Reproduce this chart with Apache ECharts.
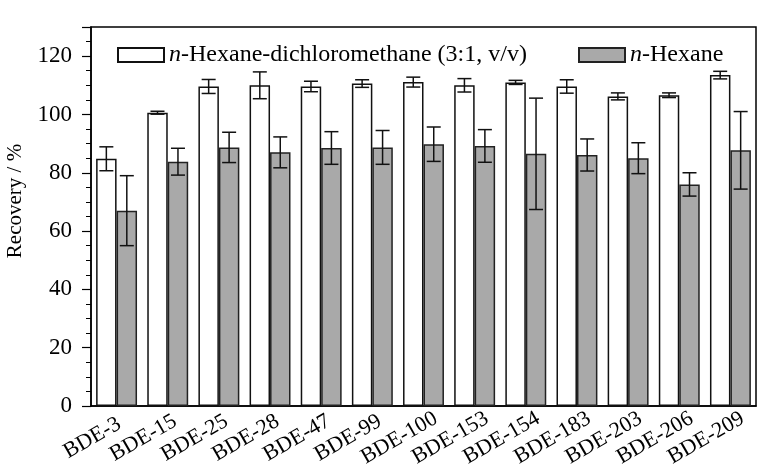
<!DOCTYPE html>
<html><head><meta charset="utf-8">
<script src="https://cdn.jsdelivr.net/npm/echarts@6/dist/echarts.min.js"></script>
<style>html,body{margin:0;padding:0;background:#fff}#c{width:765px;height:472px}</style>
</head><body><div id="c"></div>
<script>
var categories = ['BDE-3','BDE-15','BDE-25','BDE-28','BDE-47','BDE-99','BDE-100','BDE-153','BDE-154','BDE-183','BDE-203','BDE-206','BDE-209'];
var mixValues = [84.8, 100.6, 109.6, 110.0, 109.6, 110.6, 111.1, 110.0, 111.0, 109.6, 106.2, 106.6, 113.5];
var mixErrors = [4.1, 0.5, 2.4, 4.6, 1.8, 1.3, 1.7, 2.3, 0.7, 2.3, 1.2, 0.8, 1.3];
var hexValues = [67.0, 83.8, 88.7, 87.0, 88.5, 88.7, 89.8, 89.2, 86.5, 86.1, 85.0, 76.0, 87.7];
var hexErrors = [12.0, 4.6, 5.2, 5.3, 5.6, 5.8, 5.9, 5.6, 19.1, 5.5, 5.3, 4.0, 13.3];
var yTicks = [0, 20, 40, 60, 80, 100, 120];
var yTitle = 'Recovery / %';

var FONT = '"Liberation Serif", "Times New Roman", serif';
var chart = echarts.init(document.getElementById('c'), null, {renderer: 'canvas'});

function errData(vals, errs) {
  return vals.map(function (v, i) { return [i, v, errs[i]]; });
}
function makeErr(sign) {
  return function (params, api) {
    var i = api.value(0), v = api.value(1), e = api.value(2);
    var band = api.size([1, 0])[0];
    var p = api.coord([i, v]);
    var x = p[0] + sign * band * 0.2;
    var top = api.coord([i, v + e])[1];
    var bot = api.coord([i, v - e])[1];
    var half = 7;
    var st = {stroke: '#111', lineWidth: 1.5};
    return {type: 'group', children: [
      {type: 'line', shape: {x1: x, y1: top, x2: x, y2: bot}, style: st},
      {type: 'line', shape: {x1: x - half, y1: top, x2: x + half, y2: top}, style: st},
      {type: 'line', shape: {x1: x - half, y1: bot, x2: x + half, y2: bot}, style: st}
    ]};
  };
}

var legendText = {fontFamily: FONT, fontSize: 24, color: '#000',
  rich: {i: {fontFamily: FONT, fontSize: 24, fontStyle: 'italic', color: '#000'},
         r: {fontFamily: FONT, fontSize: 24, color: '#000'}}};

chart.setOption({
  animation: false,
  backgroundColor: '#fff',
  grid: {left: 91, right: 9, top: 27, bottom: 66, outerBoundsMode: 'none', containLabel: false,
    show: true, borderColor: '#000', borderWidth: 1.5, backgroundColor: 'transparent'},
  legend: [
    {data: [{name: 'mix', icon: 'rect'}], left: 112, top: 38, itemWidth: 46, itemHeight: 14, itemGap: 12,
     textStyle: legendText, formatter: function () { return '{i|n}{r|-Hexane-dichloromethane (3:1, v/v)}'; }},
    {data: [{name: 'hex', icon: 'rect'}], left: 573, top: 38, itemWidth: 46, itemHeight: 14, itemGap: 12,
     textStyle: legendText, formatter: function () { return '{i|n}{r|-Hexane}'; }}
  ],
  graphic: [{type: 'text', x: 15, y: 201, rotation: Math.PI / 2,
    style: {text: yTitle, fontFamily: FONT, fontSize: 21, fill: '#000', align: 'center', verticalAlign: 'middle'}}],
  xAxis: {
    type: 'category', data: categories,
    axisLine: {lineStyle: {color: '#000', width: 1.5}},
    axisTick: {show: false},
    axisLabel: {show: true, rotate: 30, fontFamily: FONT, fontSize: 22, color: '#000', margin: 18, interval: 0,
      align: 'center', verticalAlign: 'middle', padding: [0, 56, 0, 0]}
  },
  yAxis: {
    type: 'value', min: 0, max: 130, interval: 20,
    axisLine: {show: true, lineStyle: {color: '#000', width: 1.5}},
    axisTick: {show: true, inside: false, length: 9, lineStyle: {color: '#000', width: 1.2}},
    minorTick: {show: true, splitNumber: 4, length: 5, lineStyle: {color: '#000', width: 1}},
    splitLine: {show: false},
    axisLabel: {show: true, fontFamily: FONT, fontSize: 23, color: '#000', margin: 19,
      formatter: function (v) { return yTicks.indexOf(v) >= 0 ? String(v) : ''; }}
  },
  series: [
    {name: 'mix', type: 'bar', data: mixValues, barWidth: '40%', barGap: '0%',
     itemStyle: {color: '#ffffff', borderColor: '#111', borderWidth: 1.5}},
    {name: 'hex', type: 'bar', data: hexValues, barWidth: '40%', barGap: '0%',
     itemStyle: {color: '#a9a9a9', borderColor: '#222', borderWidth: 1.5}},
    {name: 'mixErr', type: 'custom', data: errData(mixValues, mixErrors), renderItem: makeErr(-1), z: 5,
     encode: {x: 0, y: 1}},
    {name: 'hexErr', type: 'custom', data: errData(hexValues, hexErrors), renderItem: makeErr(1), z: 5,
     encode: {x: 0, y: 1}}
  ]
});
</script></body></html>
